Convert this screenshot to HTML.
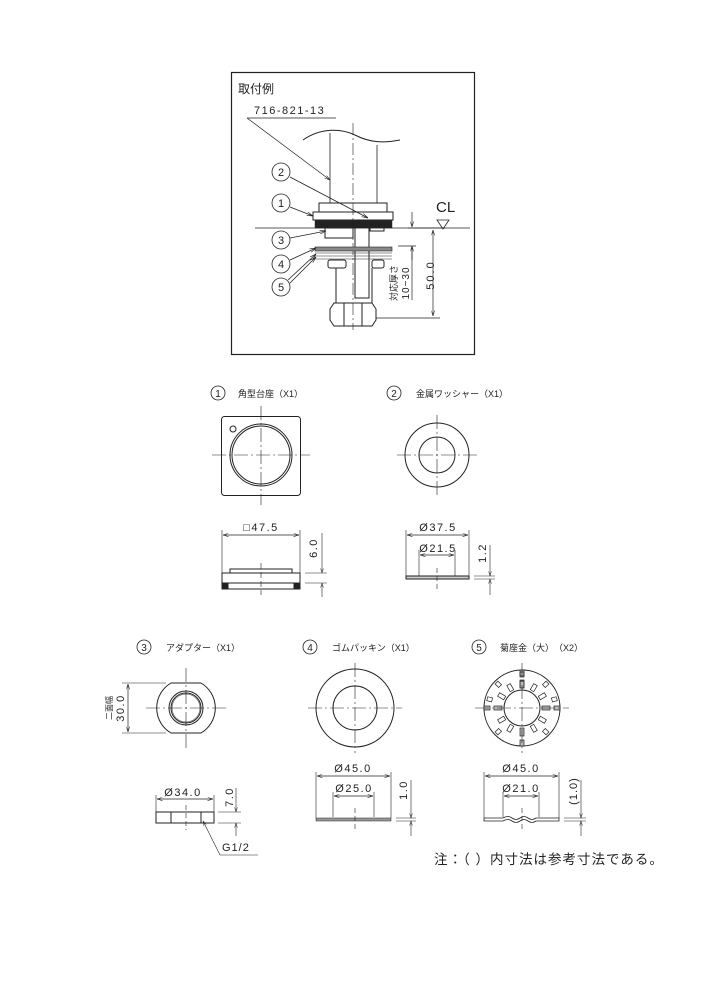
<!DOCTYPE html>
<html><head><meta charset="utf-8"><style>
html,body{margin:0;padding:0;background:#fff;}
svg{display:block;}
text{font-family:"Liberation Sans","Noto Sans CJK JP",sans-serif;fill:#222;}
</style></head><body>
<svg width="706" height="1000" viewBox="0 0 706 1000" xmlns="http://www.w3.org/2000/svg" stroke="#222" fill="none" stroke-width="1">
<defs>
<marker id="a" viewBox="0 0 10 6" refX="10" refY="3" markerWidth="8" markerHeight="5" orient="auto-start-reverse"><path d="M0,0L10,3L0,6" fill="none" stroke="#222"/></marker>
</defs>
<!-- top box -->
<rect x="231.5" y="72.5" width="243" height="282" stroke-width="1.2"/>
<text x="238" y="93" font-size="12" stroke="none">取付例</text>
<text x="254" y="114" font-size="11" stroke="none" letter-spacing="1.5">716-821-13</text>
<line x1="247" y1="118" x2="336" y2="118" stroke-width="0.7"/>
<line x1="247" y1="118" x2="330" y2="180" stroke-width="0.7" marker-end="url(#a)"/>
<!-- pipe -->
<path d="M303,140 C320,128 340,128 355,135 C370,143 385,143 400,140" stroke-width="1"/>
<line x1="330" y1="133" x2="330" y2="203" stroke-width="0.8"/>
<line x1="377" y1="145" x2="377" y2="203" stroke-width="0.8"/>
<line x1="353" y1="123" x2="353" y2="330" stroke-width="0.6" stroke-dasharray="12,3,2,3"/>
<!-- base -->
<rect x="319" y="203" width="68" height="9" stroke-width="1"/>
<rect x="313" y="212" width="80" height="8" stroke-width="1"/>
<rect x="315" y="220" width="77" height="8" fill="#222" stroke-width="0.5"/>
<line x1="255" y1="228" x2="470" y2="228" stroke-width="0.8"/>
<text x="436" y="212" font-size="15" stroke="none">CL</text>
<path d="M437,220 L449,220 L443,229 Z" stroke-width="0.8"/>
<!-- adapter -->
<rect x="325" y="228" width="28" height="10"/>
<rect x="370" y="221" width="14" height="10"/>
<rect x="355" y="222" width="14" height="76"/>
<!-- washers -->
<rect x="315" y="247" width="77" height="4" fill="#888" stroke-width="0.6"/>
<path d="M315,253 L392,253 M315,256 L392,256 M315,259 L392,259" stroke-width="0.6"/>
<rect x="328" y="260" width="18" height="8" rx="2"/>
<rect x="372" y="260" width="12" height="8" rx="2"/>
<line x1="336" y1="268" x2="336" y2="303"/><line x1="372" y1="268" x2="372" y2="303"/>
<path d="M334,303 L372,303 L376,309 L376,320 L372,326 L334,326 L330,320 L330,309 Z"/>
<line x1="344" y1="303" x2="344" y2="326"/><line x1="362" y1="303" x2="362" y2="326"/>
<!-- callouts -->
<g stroke-width="0.8">
<circle cx="281" cy="172" r="9"/><circle cx="281" cy="203" r="9"/><circle cx="281" cy="240" r="9"/><circle cx="281" cy="264" r="9"/><circle cx="281" cy="287" r="9"/>
<line x1="290" y1="177" x2="368" y2="218" marker-end="url(#a)"/>
<line x1="290" y1="207" x2="313" y2="216" marker-end="url(#a)"/>
<line x1="290" y1="238" x2="326" y2="231" marker-end="url(#a)"/>
<line x1="290" y1="260" x2="316" y2="248" marker-end="url(#a)"/>
<line x1="288" y1="280" x2="316" y2="254" marker-end="url(#a)"/>
<line x1="290" y1="283" x2="316" y2="257" marker-end="url(#a)"/>
</g>
<g font-size="11" stroke="none" text-anchor="middle"><text x="281" y="176">2</text><text x="281" y="207">1</text><text x="281" y="244">3</text><text x="281" y="268">4</text><text x="281" y="291">5</text></g>
<!-- dims -->
<line x1="412" y1="212" x2="412" y2="227" stroke-width="0.7" marker-end="url(#a)"/>
<line x1="412" y1="260" x2="412" y2="246" stroke-width="0.7" marker-end="url(#a)"/>
<line x1="398" y1="246" x2="416" y2="246" stroke-width="0.7"/>
<line x1="412" y1="246" x2="412" y2="300" stroke-width="0.7"/>
<line x1="433" y1="230" x2="433" y2="316" stroke-width="0.7" marker-start="url(#a)" marker-end="url(#a)"/>
<line x1="376" y1="318" x2="440" y2="318" stroke-width="0.7"/>
<line x1="408" y1="228" x2="445" y2="228" stroke-width="0.7"/>
<text transform="translate(434,275) rotate(-90)" font-size="11" stroke="none" text-anchor="middle" letter-spacing="2">50.0</text>
<text transform="translate(397,283) rotate(-90)" font-size="9" stroke="none" text-anchor="middle">対応厚さ</text>
<text transform="translate(409,283) rotate(-90)" font-size="10" stroke="none" text-anchor="middle" letter-spacing="1">10~30</text>

<!-- part 1 -->
<circle cx="218" cy="393" r="7" stroke-width="0.8"/><text x="218" y="397" font-size="10" stroke="none" text-anchor="middle">1</text>
<text x="238" y="397" font-size="9" stroke="none">角型台座（X1）</text>
<rect x="221.5" y="416.5" width="79" height="79" rx="3"/>
<circle cx="261" cy="455" r="31"/><circle cx="261" cy="455" r="29"/>
<circle cx="233" cy="429" r="3"/>
<g stroke-width="0.6" stroke-dasharray="14,3,2,3"><line x1="261" y1="406" x2="261" y2="505"/><line x1="212" y1="455" x2="310" y2="455"/></g>
<line x1="222" y1="530" x2="222" y2="582" stroke-width="0.6"/><line x1="300" y1="530" x2="300" y2="582" stroke-width="0.6"/>
<line x1="223" y1="535" x2="299" y2="535" stroke-width="0.7" marker-start="url(#a)" marker-end="url(#a)"/>
<text x="261" y="531" font-size="11" stroke="none" text-anchor="middle" letter-spacing="1.5">□47.5</text>
<rect x="230" y="569" width="62" height="4"/>
<rect x="222" y="573" width="78" height="10"/>
<rect x="222" y="583" width="78" height="6"/>
<rect x="222" y="583" width="6" height="6" fill="#222"/><rect x="294" y="583" width="6" height="6" fill="#222"/>
<line x1="261" y1="563" x2="261" y2="595" stroke-width="0.6" stroke-dasharray="6,3"/>
<line x1="305" y1="573" x2="327" y2="573" stroke-width="0.6"/><line x1="305" y1="583" x2="327" y2="583" stroke-width="0.6"/>
<line x1="322" y1="533" x2="322" y2="573" stroke-width="0.6" marker-end="url(#a)"/>
<line x1="322" y1="597" x2="322" y2="583" stroke-width="0.6" marker-end="url(#a)"/>
<text transform="translate(317,548) rotate(-90)" font-size="11" stroke="none" text-anchor="middle" letter-spacing="1.5">6.0</text>

<!-- part 2 -->
<circle cx="394" cy="393" r="7" stroke-width="0.8"/><text x="394" y="397" font-size="10" stroke="none" text-anchor="middle">2</text>
<text x="416" y="397" font-size="9" stroke="none">金属ワッシャー（X1）</text>
<circle cx="437" cy="455" r="32"/><circle cx="437" cy="455" r="18"/>
<g stroke-width="0.6" stroke-dasharray="14,3,2,3"><line x1="437" y1="415" x2="437" y2="497"/><line x1="397" y1="455" x2="477" y2="455"/></g>
<line x1="406" y1="530" x2="406" y2="578" stroke-width="0.6"/><line x1="469" y1="530" x2="469" y2="578" stroke-width="0.6"/>
<line x1="419" y1="550" x2="419" y2="577" stroke-width="0.6"/><line x1="455" y1="550" x2="455" y2="577" stroke-width="0.6"/>
<line x1="407" y1="535" x2="468" y2="535" stroke-width="0.7" marker-start="url(#a)" marker-end="url(#a)"/>
<line x1="420" y1="555" x2="454" y2="555" stroke-width="0.7" marker-start="url(#a)" marker-end="url(#a)"/>
<text x="438" y="531" font-size="11" stroke="none" text-anchor="middle" letter-spacing="1.5">Ø37.5</text>
<text x="438" y="552" font-size="11" stroke="none" text-anchor="middle" letter-spacing="1.5">Ø21.5</text>
<rect x="406" y="576" width="63" height="3" fill="#ccc"/>
<line x1="437" y1="568" x2="437" y2="590" stroke-width="0.6" stroke-dasharray="5,3"/>
<line x1="474" y1="576" x2="495" y2="576" stroke-width="0.6"/><line x1="474" y1="579" x2="495" y2="579" stroke-width="0.6"/>
<line x1="490" y1="545" x2="490" y2="576" stroke-width="0.6" marker-end="url(#a)"/>
<line x1="490" y1="595" x2="490" y2="579" stroke-width="0.6" marker-end="url(#a)"/>
<text transform="translate(486,553) rotate(-90)" font-size="11" stroke="none" text-anchor="middle" letter-spacing="1.5">1.2</text>

<!-- part 3 -->
<circle cx="144" cy="647" r="7" stroke-width="0.8"/><text x="144" y="651" font-size="10" stroke="none" text-anchor="middle">3</text>
<text x="166" y="651" font-size="9" stroke="none">アダプター（X1）</text>
<path d="M171,683 L201,683 A29,29 0 0 1 201,733 L171,733 A29,29 0 0 1 171,683 Z"/>
<circle cx="186" cy="708" r="17"/><circle cx="186" cy="708" r="15"/><circle cx="186" cy="708" r="14" stroke-width="0.5"/>
<g stroke-width="0.6" stroke-dasharray="14,3,2,3"><line x1="186" y1="668" x2="186" y2="748"/><line x1="146" y1="708" x2="226" y2="708"/></g>
<line x1="122" y1="683" x2="166" y2="683" stroke-width="0.6"/><line x1="122" y1="733" x2="166" y2="733" stroke-width="0.6"/>
<line x1="128" y1="684" x2="128" y2="732" stroke-width="0.7" marker-start="url(#a)" marker-end="url(#a)"/>
<text transform="translate(124,708) rotate(-90)" font-size="11" stroke="none" text-anchor="middle" letter-spacing="1.5">30.0</text>
<text transform="translate(112,708) rotate(-90)" font-size="8" stroke="none" text-anchor="middle">二面幅</text>
<line x1="156" y1="795" x2="156" y2="812" stroke-width="0.6"/><line x1="214" y1="795" x2="214" y2="812" stroke-width="0.6"/>
<line x1="157" y1="799" x2="213" y2="799" stroke-width="0.7" marker-start="url(#a)" marker-end="url(#a)"/>
<text x="183" y="796" font-size="11" stroke="none" text-anchor="middle" letter-spacing="1.5">Ø34.0</text>
<rect x="156" y="812" width="58" height="11"/>
<line x1="171" y1="812" x2="171" y2="823"/><line x1="201" y1="812" x2="201" y2="823"/>
<line x1="186" y1="805" x2="186" y2="830" stroke-width="0.6" stroke-dasharray="5,3"/>
<line x1="218" y1="812" x2="241" y2="812" stroke-width="0.6"/><line x1="218" y1="823" x2="241" y2="823" stroke-width="0.6"/>
<line x1="236" y1="788" x2="236" y2="812" stroke-width="0.6" marker-end="url(#a)"/>
<line x1="236" y1="836" x2="236" y2="823" stroke-width="0.6" marker-end="url(#a)"/>
<text transform="translate(233,797) rotate(-90)" font-size="11" stroke="none" text-anchor="middle" letter-spacing="1.5">7.0</text>
<path d="M258,855 L220,855 L203,821" stroke-width="0.6" marker-end="url(#a)"/>
<text x="222" y="851" font-size="11" stroke="none" letter-spacing="1">G1/2</text>

<!-- part 4 -->
<circle cx="310" cy="647" r="7" stroke-width="0.8"/><text x="310" y="651" font-size="10" stroke="none" text-anchor="middle">4</text>
<text x="332" y="651" font-size="9" stroke="none">ゴムパッキン（X1）</text>
<circle cx="355" cy="708" r="39"/><circle cx="355" cy="708" r="22"/>
<g stroke-width="0.6" stroke-dasharray="14,3,2,3"><line x1="355" y1="663" x2="355" y2="753"/><line x1="308" y1="708" x2="402" y2="708"/></g>
<line x1="316" y1="772" x2="316" y2="818" stroke-width="0.6"/><line x1="391" y1="772" x2="391" y2="818" stroke-width="0.6"/>
<line x1="333" y1="792" x2="333" y2="817" stroke-width="0.6"/><line x1="374" y1="792" x2="374" y2="817" stroke-width="0.6"/>
<line x1="317" y1="776" x2="390" y2="776" stroke-width="0.7" marker-start="url(#a)" marker-end="url(#a)"/>
<line x1="334" y1="796" x2="373" y2="796" stroke-width="0.7" marker-start="url(#a)" marker-end="url(#a)"/>
<text x="353" y="772" font-size="11" stroke="none" text-anchor="middle" letter-spacing="1.5">Ø45.0</text>
<text x="354" y="792" font-size="11" stroke="none" text-anchor="middle" letter-spacing="1.5">Ø25.0</text>
<rect x="316" y="818" width="75" height="3" fill="#999" stroke-width="0.5"/>
<line x1="355" y1="808" x2="355" y2="830" stroke-width="0.6" stroke-dasharray="5,3"/>
<line x1="396" y1="818" x2="416" y2="818" stroke-width="0.6"/><line x1="396" y1="821" x2="416" y2="821" stroke-width="0.6"/>
<line x1="411" y1="780" x2="411" y2="818" stroke-width="0.6" marker-end="url(#a)"/>
<line x1="411" y1="836" x2="411" y2="821" stroke-width="0.6" marker-end="url(#a)"/>
<text transform="translate(407,790) rotate(-90)" font-size="11" stroke="none" text-anchor="middle" letter-spacing="1.5">1.0</text>

<!-- part 5 -->
<circle cx="479" cy="647" r="7" stroke-width="0.8"/><text x="479" y="651" font-size="10" stroke="none" text-anchor="middle">5</text>
<text x="500" y="651" font-size="9" stroke="none">菊座金（大）　（X2）</text>
<circle cx="522" cy="708" r="38"/><circle cx="522" cy="708" r="18"/>
<g stroke-width="0.7">
<g id="t"><rect x="520" y="680" width="4" height="8" fill="#bbb"/><rect x="520" y="670" width="4" height="6" fill="#bbb"/></g>
<use href="#t" transform="rotate(90 522 708)"/><use href="#t" transform="rotate(180 522 708)"/><use href="#t" transform="rotate(270 522 708)"/>
<g id="s"><rect x="520" y="681" width="4" height="7"/></g>
<use href="#s" transform="rotate(30 522 708)"/><use href="#s" transform="rotate(60 522 708)"/><use href="#s" transform="rotate(120 522 708)"/><use href="#s" transform="rotate(150 522 708)"/><use href="#s" transform="rotate(210 522 708)"/><use href="#s" transform="rotate(240 522 708)"/><use href="#s" transform="rotate(300 522 708)"/><use href="#s" transform="rotate(330 522 708)"/>
<g id="o"><rect x="520" y="672" width="4" height="5"/></g>
<use href="#o" transform="rotate(45 522 708)"/><use href="#o" transform="rotate(-45 522 708)"/><use href="#o" transform="rotate(75 522 708)"/><use href="#o" transform="rotate(-75 522 708)"/><use href="#o" transform="rotate(135 522 708)"/><use href="#o" transform="rotate(-135 522 708)"/>
</g>
<g stroke-width="0.6" stroke-dasharray="14,3,2,3"><line x1="522" y1="663" x2="522" y2="753"/><line x1="475" y1="708" x2="569" y2="708"/></g>
<line x1="484" y1="772" x2="484" y2="818" stroke-width="0.6"/><line x1="559" y1="772" x2="559" y2="818" stroke-width="0.6"/>
<line x1="503" y1="792" x2="503" y2="817" stroke-width="0.6"/><line x1="539" y1="792" x2="539" y2="817" stroke-width="0.6"/>
<line x1="485" y1="776" x2="558" y2="776" stroke-width="0.7" marker-start="url(#a)" marker-end="url(#a)"/>
<line x1="504" y1="796" x2="538" y2="796" stroke-width="0.7" marker-start="url(#a)" marker-end="url(#a)"/>
<text x="521" y="772" font-size="11" stroke="none" text-anchor="middle" letter-spacing="1.5">Ø45.0</text>
<text x="521" y="792" font-size="11" stroke="none" text-anchor="middle" letter-spacing="1.5">Ø21.0</text>
<path d="M484,818 L503,818 Q508,815 512,818 Q516,821 520,818 Q524,815 528,818 Q532,821 536,818 L559,818 L559,821 L536,821 Q532,824 528,821 Q524,818 520,821 Q516,824 512,821 Q508,818 503,821 L484,821 Z" stroke-width="0.8"/>
<line x1="522" y1="808" x2="522" y2="830" stroke-width="0.6" stroke-dasharray="5,3"/>
<line x1="564" y1="818" x2="586" y2="818" stroke-width="0.6"/><line x1="564" y1="821" x2="586" y2="821" stroke-width="0.6"/>
<line x1="581" y1="780" x2="581" y2="818" stroke-width="0.6" marker-end="url(#a)"/>
<line x1="581" y1="836" x2="581" y2="821" stroke-width="0.6" marker-end="url(#a)"/>
<text transform="translate(577,791) rotate(-90)" font-size="11" stroke="none" text-anchor="middle" letter-spacing="1">(1.0)</text>

<text x="434" y="864" font-size="13.5" stroke="none" letter-spacing="1">注：（ ）内寸法は参考寸法である。</text>
</svg>
</body></html>
